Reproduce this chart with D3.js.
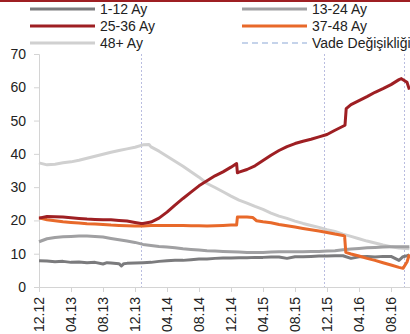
<!DOCTYPE html>
<html>
<head>
<meta charset="utf-8">
<script src="https://cdn.jsdelivr.net/npm/d3@7"></script>
<style>
  body { margin: 0; overflow: hidden; background: #fff; }
  text { font-family: "Liberation Sans", Arial, sans-serif; fill: #222; }
</style>
</head>
<body>
<div id="chart"></div>
<script>
// month index counted from 12.12 (0) ; values in %
var tickLabels = ['12.12', '04.13', '08.13', '12.13', '04.14', '08.14', '12.14', '04.15', '08.15', '12.15', '04.16', '08.16']
var yTicks = [0, 10, 20, 30, 40, 50, 60, 70]
var maturityChanges = [12.8, 35.6, 45.6]

var ay1_12 = [[0,7.9],[1,7.8],[2,7.6],[3,7.7],[4,7.4],[5,7.5],[6,7.3],[7,7.4],[8,6.9],[8.5,7.3],[9,7.2],[10,7.0],[10.3,6.3],[10.6,7.0],[11,7.1],[12,7.2],[13,7.3],[14,7.4],[15,7.7],[16,7.9],[17,8.0],[18,8.0],[19,8.2],[20,8.4],[21,8.4],[22,8.6],[23,8.7],[24,8.7],[25,8.8],[26,8.8],[27,8.9],[28,8.9],[29,9.0],[30,9.0],[31,8.6],[32,9.1],[33,9.1],[34,9.2],[35,9.3],[36,9.3],[37,9.4],[38,9.4],[39,8.6],[40,9.1],[41,9.2],[42,9.0],[43,9.2],[44,9.2],[45,8.0],[45.5,9.1],[46,9.4],[46.3,9.6]]
var ay13_24 = [[0,13.6],[1,14.5],[2,14.9],[3,15.1],[4,15.2],[5,15.3],[6,15.3],[7,15.2],[8,15.0],[9,14.6],[10,14.2],[11,13.8],[12,13.4],[13,12.8],[14,12.5],[15,12.2],[16,12.0],[17,11.8],[18,11.5],[19,11.3],[20,11.1],[21,10.9],[22,10.8],[23,10.7],[24,10.6],[25,10.5],[26,10.4],[27,10.4],[28,10.4],[29,10.5],[30,10.6],[31,10.6],[32,10.6],[33,10.6],[34,10.7],[35,10.7],[36,10.8],[37,10.9],[38,11.2],[39,11.4],[40,11.6],[41,11.8],[42,11.9],[43,12.0],[44,12.1],[45,12.1],[46.3,12.1]]
var ay25_36 = [[0,20.7],[1,21.2],[2,21.1],[3,21.0],[4,20.8],[5,20.6],[6,20.4],[7,20.3],[8,20.2],[9,20.2],[10,20.0],[11,19.8],[12,19.4],[12.75,19.1],[13,19.1],[14,19.5],[15,20.7],[16,22.5],[17,24.6],[18,26.6],[19,28.5],[20,30.4],[21,31.9],[22,33.4],[23,34.6],[24,36.0],[24.7,37.1],[24.8,34.3],[25,34.5],[26,35.3],[27,36.4],[28,38.0],[29,39.6],[30,41.0],[31,42.2],[32,43.1],[33,43.8],[34,44.4],[35,45.1],[36,45.8],[37,47.1],[38.25,48.6],[38.4,53.6],[39,54.8],[40,56.0],[41,57.2],[42,58.5],[43,59.6],[44,60.8],[45,62.3],[45.3,62.6],[46,61.5],[46.3,59.3]]
var ay37_48 = [[0,20.8],[1,20.2],[2,19.9],[3,19.6],[4,19.4],[5,19.2],[6,19.0],[7,18.9],[8,18.8],[9,18.6],[10,18.5],[11,18.4],[12,18.3],[13,18.3],[14,18.5],[15,18.5],[16,18.5],[17,18.5],[18,18.5],[19,18.4],[20,18.4],[21,18.3],[22,18.4],[23,18.5],[24,18.6],[24.7,18.6],[24.8,21.0],[25,21.0],[26,21.0],[26.7,20.9],[27.2,19.9],[28,19.6],[29,19.3],[30,18.8],[31,18.4],[32,18.0],[33,17.6],[34,17.2],[35,16.8],[36,16.4],[37,15.9],[38,15.5],[38.2,15.3],[38.35,10.4],[39,9.9],[40,9.3],[41,8.6],[42,8.0],[43,7.3],[44,6.6],[45,5.9],[45.5,5.6],[46,7.5],[46.3,9.8]]
var ay48 = [[0,37.3],[1,36.7],[2,36.9],[3,37.3],[4,37.6],[5,38.1],[6,38.7],[7,39.3],[8,39.9],[9,40.5],[10,41.0],[11,41.5],[12,42.0],[13,42.7],[13.75,42.8],[14,42.1],[15,40.8],[16,39.3],[17,37.8],[18,36.3],[19,34.6],[20,33.0],[21,31.1],[22,29.9],[23,28.6],[24,27.3],[25,26.1],[26,25.2],[27,24.2],[28,23.3],[29,22.2],[30,21.3],[31,20.6],[32,19.8],[33,19.1],[34,18.5],[35,17.9],[36,17.2],[37,16.7],[38,15.9],[39,15.2],[40,14.5],[41,13.8],[42,13.2],[43,12.6],[44,12.1],[45,11.7],[46.3,11.5]]

var width = 410
var height = 334

var svg = d3.select('#chart')
  .append('svg')
  .attr('width', width)
  .attr('height', height)

// red rule at the very top
svg.append('rect')
  .attr('x', 0).attr('y', 0)
  .attr('width', width).attr('height', 2)
  .attr('fill', '#9e1f23')

var xPositionScale = d3.scaleLinear().domain([0, 48]).range([39, 423])
var yPositionScale = d3.scaleLinear().domain([0, 70]).range([287, 54])

// axes
var yAxis = d3.axisLeft(yPositionScale).tickValues(yTicks).tickSize(5).tickPadding(8)
var gy = svg.append('g')
  .attr('transform', 'translate(39,0)')
  .call(yAxis)
gy.selectAll('.domain, line').attr('stroke', '#d4d4d4')
gy.selectAll('text').style('font-size', '14px').attr('fill', '#222')

var xAxis = d3.axisBottom(xPositionScale)
  .tickValues(d3.range(0, 48, 4))
  .tickFormat((d, i) => tickLabels[i])
  .tickSize(5)
  .tickSizeOuter(0)
var gx = svg.append('g')
  .attr('transform', 'translate(0,287)')
  .call(xAxis)
gx.selectAll('.domain, line').attr('stroke', '#d4d4d4')
gx.selectAll('text')
  .style('font-size', '14px')
  .attr('fill', '#222')
  .attr('text-anchor', 'end')
  .attr('transform', 'rotate(-90)')
  .attr('x', -10)
  .attr('y', 0)
  .attr('dy', '0.35em')

// maturity change markers
svg.selectAll('.vade')
  .data(maturityChanges)
  .enter()
  .append('line')
  .attr('class', 'vade')
  .attr('x1', d => Math.round(xPositionScale(d)) + 0.5)
  .attr('x2', d => Math.round(xPositionScale(d)) + 0.5)
  .attr('y1', yPositionScale(70))
  .attr('y2', yPositionScale(0))
  .attr('stroke', '#b9bde0')
  .attr('stroke-width', 1)
  .attr('stroke-dasharray', '2,2')

var line = d3.line()
  .x(d => xPositionScale(d[0]))
  .y(d => yPositionScale(d[1]))

var series = [
  { name: '48+ Ay', data: ay48, color: '#d0d0d0' },
  { name: '13-24 Ay', data: ay13_24, color: '#a0a0a2' },
  { name: '1-12 Ay', data: ay1_12, color: '#7b7b7d' },
  { name: '37-48 Ay', data: ay37_48, color: '#e8692a' },
  { name: '25-36 Ay', data: ay25_36, color: '#9e1f23' }
]

svg.selectAll('.series')
  .data(series)
  .enter()
  .append('path')
  .attr('class', 'series')
  .attr('d', d => line(d.data))
  .attr('fill', 'none')
  .attr('stroke', d => d.color)
  .attr('stroke-width', 3)
  .attr('stroke-linejoin', 'round')

// legend
var legendItems = [
  { name: '1-12 Ay', color: '#7b7b7d', x: 30, y: 9 },
  { name: '13-24 Ay', color: '#a0a0a2', x: 242, y: 9 },
  { name: '25-36 Ay', color: '#9e1f23', x: 30, y: 26 },
  { name: '37-48 Ay', color: '#e8692a', x: 242, y: 26 },
  { name: '48+ Ay', color: '#d0d0d0', x: 30, y: 43 },
  { name: 'Vade Değişikliği', color: '#c5d3ea', x: 242, y: 43, dashed: true }
]

var legend = svg.selectAll('.legend')
  .data(legendItems)
  .enter()
  .append('g')
  .attr('class', 'legend')
  .attr('transform', d => `translate(${d.x},${d.y})`)

legend.append('line')
  .attr('x1', 0).attr('x2', 65)
  .attr('stroke', d => d.color)
  .attr('stroke-width', d => d.dashed ? 2 : 3)
  .attr('stroke-dasharray', d => d.dashed ? '6,4' : null)

legend.append('text')
  .attr('x', 70)
  .attr('dy', '0.35em')
  .style('font-size', '14px')
  .text(d => d.name)
</script>
</body>
</html>
